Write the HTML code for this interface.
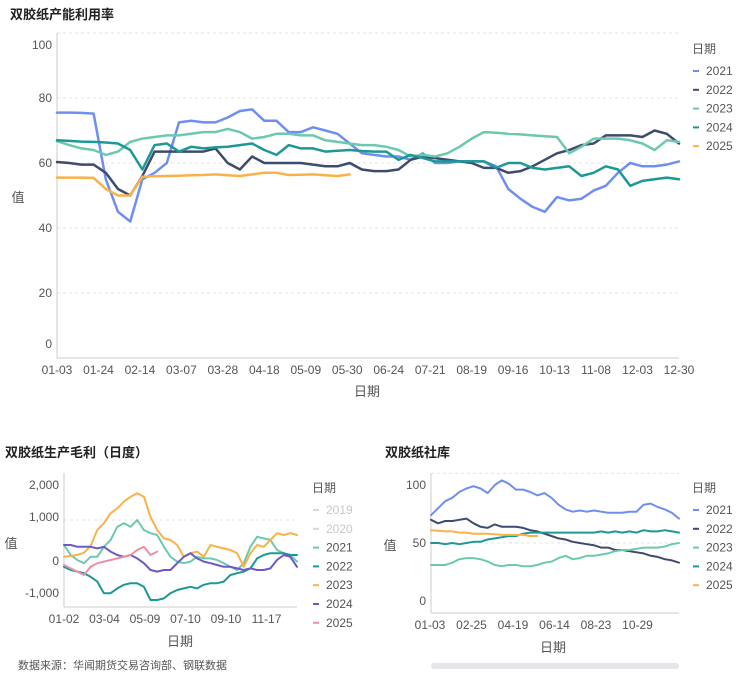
<!DOCTYPE html>
<html><head><meta charset="utf-8">
<style>
body{margin:0;background:#fff;width:754px;height:680px;overflow:hidden;font-family:"Liberation Sans","Noto Sans CJK SC",sans-serif}
svg{position:absolute;left:0;top:0}
text{font-family:"Liberation Sans","Noto Sans CJK SC",sans-serif}
</style></head>
<body>
<svg id="s" width="754" height="680" viewBox="0 0 754 680"></svg>
<script>
// ---- Chart 1: capacity utilization (weekly) ----
const c1Labels=["01-03","01-24","02-14","03-07","03-28","04-18","05-09","05-30","06-24","07-21","08-19","09-16","10-13","11-08","12-03","12-30"];
const c1Ticks=[0,20,40,60,80,100];
const c1Years=["2021","2022","2023","2024","2025"];
const c1_2021=[75.5,75.5,75.4,75.2,55,45,42,55,57,60,72.5,73,72.5,72.5,74,76,76.5,73,73,69.5,69.5,71,70,69,66,63,62.5,62,62,61,63,60,60,60.5,60.5,60.5,59,52,49,46.5,45,49.5,48.5,49,51.5,53,57,60,59,59,59.5,60.5];
const c1_2022=[60.3,60,59.5,59.5,57,52,50,56,63.5,63.5,63.5,63.5,63.5,64.5,60,58,62,60,60,60,60,59.5,59,59,60,58,57.5,57.5,58,61,62,61.5,61,60.5,60,58.5,58.5,57,57.5,59,61,63,64,65.5,66,68.5,68.5,68.5,68,70,69,66];
const c1_2023=[66.7,65.5,64.5,64,62.5,63.5,66.5,67.5,68,68.5,68.5,69,69.5,69.5,70.5,69.5,67.5,68,69,69,68.5,68.5,67,66.5,66,65.5,65.5,65,64,62,62.5,62,63,65,67.5,69.5,69.3,69,68.8,68.5,68.2,68,63,65,67.5,67.5,67.5,67,66,64,67,66.5];
const c1_2024=[67,66.8,66.6,66.5,66.3,66,64,58,65.5,66,63.5,65,64.5,64.8,65,65.5,66,64,62.5,65.5,64.5,64.5,63.5,63.8,64,63.7,63.5,63.5,61,62.5,61.5,60.5,60.5,60.5,60.5,60.5,58.5,60,60,58.5,58,58.5,59,56,57,59,58,53,54.5,55,55.5,55];
const c1_2025=[55.5,55.5,55.5,55.4,52,50,50,55.8,55.9,56,56.1,56.2,56.3,56.5,56.2,56,56.5,57,57,56.3,56.4,56.5,56.2,56,56.5];

// ---- Chart 2: gross margin (daily, sampled) ----
const c2Labels=["01-02","03-04","05-09","07-10","09-10","11-17"];
const c2Ticks=[-1000,0,1000,2000];
const c2TickText=["-1,000","0","1,000","2,000"];
const c2Years=["2019","2020","2021","2022","2023","2024","2025"];
const c2_2021=[375,125,0,-80,80,80,330,500,830,920,830,1000,750,670,625,330,80,-40,-80,-40,80,40,40,0,-80,-170,-250,-80,330,580,540,500,250,170,125,-40];
const c2_2022=[-170,-250,-290,-330,-420,-540,-830,-830,-710,-620,-580,-580,-670,-1000,-1000,-960,-830,-750,-710,-670,-710,-620,-580,-580,-540,-375,-330,-290,-210,40,125,170,170,170,125,125];
const c2_2023=[80,100,130,180,350,750,920,1170,1290,1460,1580,1670,1580,1080,750,540,500,375,80,170,210,80,375,330,290,250,170,-170,170,375,330,500,670,625,670,625];
const c2_2024=[375,375,330,330,330,290,330,210,125,80,125,40,-80,-250,-290,-250,-250,-80,80,170,40,-40,-80,-125,-170,-170,-210,-250,-210,-250,-250,-210,0,125,80,-170];
const c2_2025=[-125,-210,-290,-375,-170,-80,-40,0,40,80,125,250,330,125,210];

// ---- Chart 3: social inventory ----
const c3Labels=["01-03","02-25","04-19","06-14","08-23","10-29"];
const c3Ticks=[0,50,100];
const c3Years=["2021","2022","2023","2024","2025"];
const c3_2021=[74,80,86,89,94,97,99,97,93,100,104,101,96,96,94,91,93,89,83,79,77,78,77,78,77,76,76,76,77,77,83,84,81,79,76,71];
const c3_2022=[70,67,69,69,70,71,67,64,63,66,64,64,64,63,61,60,58,56,54,53,51,50,49,48,46,46,44,44,43,42,41,39,38,36,35,33];
const c3_2023=[31,31,31,33,36,37,37,36,34,31,30,31,31,30,30,31,33,34,37,39,36,37,39,39,40,41,43,44,44,45,46,46,46,47,49,50];
const c3_2024=[50,50,49,50,49,50,51,51,53,54,55,56,56,58,59,59,59,59,59,59,59,59,59,59,60,59,60,59,60,59,61,60,60,61,60,59];
const c3_2025=[61,60.5,60,60,59,59,58,58,58,57.5,57,57,57,57,56,56];

const S=document.getElementById('s');
const NS='http://www.w3.org/2000/svg';
function mk(tag,at,parent){const e=document.createElementNS(NS,tag);for(const k in at)e.setAttribute(k,at[k]);(parent||S).appendChild(e);return e;}
function txt(x,y,s,size,fill,anchor,weight,parent){const t=mk('text',{x:x,y:y,'font-size':size,fill:fill,'text-anchor':anchor||'start','font-weight':weight||'normal'},parent);t.textContent=s;return t;}

function chart(cfg){
  const g=mk('g',{});
  
  
  const yS=v=>cfg.y0+(v-cfg.vmin)*(cfg.y1-cfg.y0)/(cfg.vmax-cfg.vmin);
  const xS=(i,n)=>cfg.x0+i*(cfg.x1-cfg.x0)/(n-1);
  cfg.grid.forEach(v=>{const l=mk('line',{x1:cfg.x0,x2:cfg.x1,y1:yS(v),y2:yS(v),stroke:'#e3e3e3','stroke-dasharray':'3,3'},g);
    
    });
  const ax=mk('line',{x1:cfg.x0,x2:cfg.x0,y1:cfg.axTop,y2:cfg.axBot,stroke:'#ccc'},g);
  
  
  const bx=mk('line',{x1:cfg.x0,x2:cfg.x1,y1:cfg.axBot,y2:cfg.axBot,stroke:'#ccc'},g);
  
  
  cfg.ticks.forEach((v,i)=>{let y=yS(v)+(cfg.tickOff?cfg.tickOff[i]:0);const t=txt(cfg.x0-5,y+4,cfg.tickText?cfg.tickText[i]:String(v),12,'#555','end','normal',g);
    
    });
  cfg.labels.forEach((s,i)=>{const t=txt(cfg.lx0+i*cfg.lstep,cfg.axBot+16,s,12,'#555','middle','normal',g);
    
    });
  cfg.series.forEach(sr=>{
    if(!sr.data)return;
    const n=cfg.n;
    const pts=sr.data.map((v,i)=>xS(i,n).toFixed(1)+','+yS(v).toFixed(1)).join(' ');
    const p=mk('polyline',{points:pts,fill:'none',stroke:sr.color,'stroke-width':cfg.lw,'stroke-linejoin':'round','stroke-linecap':'round'},g);
    
    
  });
  const lt=txt(cfg.legX,cfg.legY,'日期',12,'#555','start','normal',g);
  
  
  cfg.series.forEach((sr,i)=>{
    const y=cfg.legY+22+i*18.8;
    const lg=mk('g',{},g);
    
    
    mk('line',{x1:cfg.legX+1,x2:cfg.legX+7,y1:y-4,y2:y-4,stroke:sr.color,'stroke-width':2},lg);
    txt(cfg.legX+14,y,sr.year,12,sr.dim?'#c8c8c8':'#555','start','normal',lg);
  });
  const yt=txt(cfg.ytX,cfg.ytY,'值',13,'#555','middle','normal',g);
  
  
  const xt=txt(cfg.xtX,cfg.xtY,'日期',13,'#555','middle','normal',g);
  
  
}

const C={b:'#6f8ff0',n:'#3e4b6e',lg:'#6cc9b0',t:'#1c9896',o:'#f9b24a',p:'#6c58c8',pk:'#e891a8'};
const t1=txt(10,19,'双胶纸产能利用率',13,'#222','start','bold');


chart({name:'utilization-chart',x0:57,x1:679,y0:358,y1:33,vmin:0,vmax:100,axTop:33,axBot:358,grid:[20,40,60,80,100],
  ticks:c1Ticks,tickOff:[-14,0,0,0,0,12],labels:c1Labels,lx0:57,lstep:(679-57)/15,n:52,lw:2.5,
  series:[{year:c1Years[0],data:c1_2021,color:C.b},{year:c1Years[1],data:c1_2022,color:C.n},{year:c1Years[2],data:c1_2023,color:C.lg},{year:c1Years[3],data:c1_2024,color:C.t},{year:c1Years[4],data:c1_2025,color:C.o}],
  legX:692,legY:53,ytX:18,ytY:202,xtX:367,xtY:396});

const t2=txt(5,457,'双胶纸生产毛利（日度）',13,'#222','start','bold');


chart({name:'margin-chart',x0:64,x1:297,y0:560,y1:520,vmin:0,vmax:1000,axTop:473,axBot:607,grid:[1000],
  ticks:c2Ticks,tickText:c2TickText,tickOff:[-7,1,-3,5],labels:c2Labels,lx0:64,lstep:40.5,n:36,lw:2,
  series:[{year:c2Years[0],color:'#d8d8d8',dim:true},{year:c2Years[1],color:'#d8d8d8',dim:true},{year:c2Years[2],data:c2_2021,color:C.lg},{year:c2Years[3],data:c2_2022,color:C.t},{year:c2Years[4],data:c2_2023,color:C.o},{year:c2Years[5],data:c2_2024,color:C.p},{year:c2Years[6],data:c2_2025,color:C.pk}],
  legX:312,legY:492,ytX:11,ytY:548,xtX:180,xtY:646});

const t3=txt(385,457,'双胶纸社库',13,'#222','start','bold');


chart({name:'inventory-chart',x0:431,x1:679,y0:601,y1:543,vmin:0,vmax:50,axTop:473,axBot:613,grid:[50,110],
  ticks:c3Ticks,labels:c3Labels,lx0:430,lstep:41.5,n:36,lw:2,
  series:[{year:c3Years[0],data:c3_2021,color:C.b},{year:c3Years[1],data:c3_2022,color:C.n},{year:c3Years[2],data:c3_2023,color:C.lg},{year:c3Years[3],data:c3_2024,color:C.t},{year:c3Years[4],data:c3_2025,color:C.o}],
  legX:692,legY:492,ytX:390,ytY:550,xtX:553,xtY:652});

const sb=mk('rect',{x:431,y:663,width:248,height:6,rx:3,fill:'#e4e6ea'});


const src=txt(18,669,'数据来源：华闻期货交易咨询部、钢联数据',11,'#555','start','normal');


</script>
</body></html>
